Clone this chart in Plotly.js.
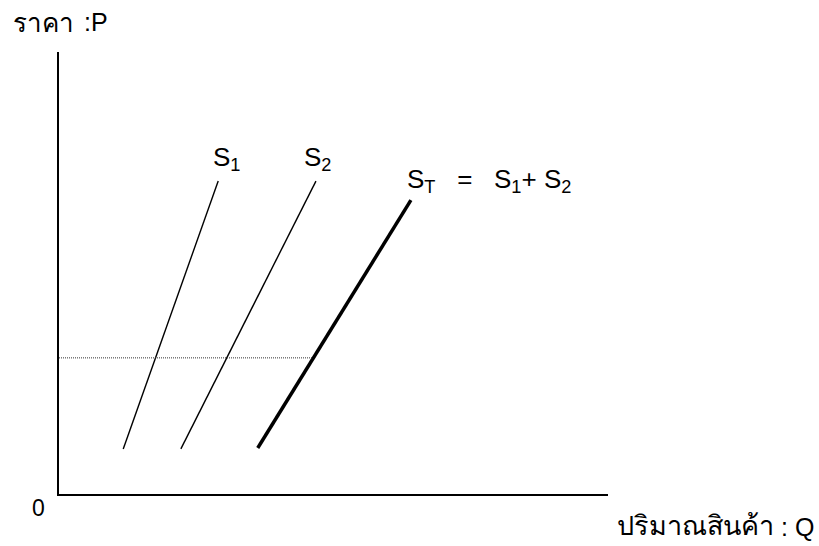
<!DOCTYPE html>
<html>
<head>
<meta charset="utf-8">
<script src="https://cdn.plot.ly/plotly-3.0.1.min.js"></script>
<style>html,body{margin:0;padding:0;background:#fff;}#chart{width:819px;height:546px;}</style>
</head>
<body>
<div id="chart"></div>
<script>
// Quantity (Q) and price (P) endpoints (axis units 0-100)
const s1Q = [11.7, 29.0];
const s1P = [10.2, 70.8];
const s2Q = [22.2, 46.8];
const s2P = [10.2, 70.8];
const stQ = [36.2, 64.1];
const stP = [10.4, 66.5];
const priceLineQ = [0, 46.1];
const priceLineP = [30.8, 30.8];

const labelS1 = "S<sub>1</sub>";
const labelS2 = "S<sub>2</sub>";
const labelST = "S<sub>T</sub>   =   S<sub>1</sub>+ S<sub>2</sub>";
const yTitleThai = "ราคา";
const yTitleLatin = ":P";
const xTitleThai = "ปริมาณสินค้า";
const xTitleLatin = ": Q";
const originLabel = "0";

const FONT = "Liberation Sans, Arial, sans-serif";

const traces = [
  {x: s1Q, y: s1P, mode: "lines", line: {color: "#000", width: 1.4}, hoverinfo: "skip"},
  {x: s2Q, y: s2P, mode: "lines", line: {color: "#000", width: 1.4}, hoverinfo: "skip"},
  {x: stQ, y: stP, mode: "lines", line: {color: "#000", width: 3.5}, hoverinfo: "skip"},
  {x: priceLineQ, y: priceLineP, mode: "lines", line: {color: "#333", width: 1, dash: "1px,1px"}, hoverinfo: "skip"}
];

const layout = {
  width: 819, height: 546,
  margin: {l: 59, r: 211, t: 52, b: 52},
  paper_bgcolor: "#fff", plot_bgcolor: "#fff",
  showlegend: false,
  font: {family: FONT, color: "#000", size: 23},
  xaxis: {range: [0, 100], showline: true, linecolor: "#000", linewidth: 2, showgrid: false, zeroline: false, showticklabels: false, ticks: ""},
  yaxis: {range: [0, 100], showline: true, linecolor: "#000", linewidth: 2, showgrid: false, zeroline: false, showticklabels: false, ticks: ""},
  annotations: [
    {text: labelS1, x: 27.6, y: 76.0, xref: "x", yref: "y", xanchor: "left", yanchor: "middle", showarrow: false, font: {size: 26}},
    {text: labelS2, x: 44.2, y: 76.0, xref: "x", yref: "y", xanchor: "left", yanchor: "middle", showarrow: false, font: {size: 26}},
    {text: labelST, x: 63.0, y: 71.0, xref: "x", yref: "y", xanchor: "left", yanchor: "middle", showarrow: false, font: {size: 26}},
    {text: yTitleThai, x: -0.088, y: 1.066, xref: "paper", yref: "paper", xanchor: "left", yanchor: "middle", showarrow: false, font: {size: 26}},
    {text: yTitleLatin, x: 0.042, y: 1.068, xref: "paper", yref: "paper", xanchor: "left", yanchor: "middle", showarrow: false, font: {size: 25}},
    {text: originLabel, x: -0.038, y: -0.032, xref: "paper", yref: "paper", xanchor: "center", yanchor: "middle", showarrow: false, font: {size: 23}},
    {text: xTitleThai, x: 1.013, y: -0.072, xref: "paper", yref: "paper", xanchor: "left", yanchor: "middle", showarrow: false, font: {size: 27}},
    {text: xTitleLatin, x: 1.311, y: -0.075, xref: "paper", yref: "paper", xanchor: "left", yanchor: "middle", showarrow: false, font: {size: 25}}
  ]
};

Plotly.newPlot("chart", traces, layout, {displayModeBar: false, staticPlot: true});
</script>
</body>
</html>
